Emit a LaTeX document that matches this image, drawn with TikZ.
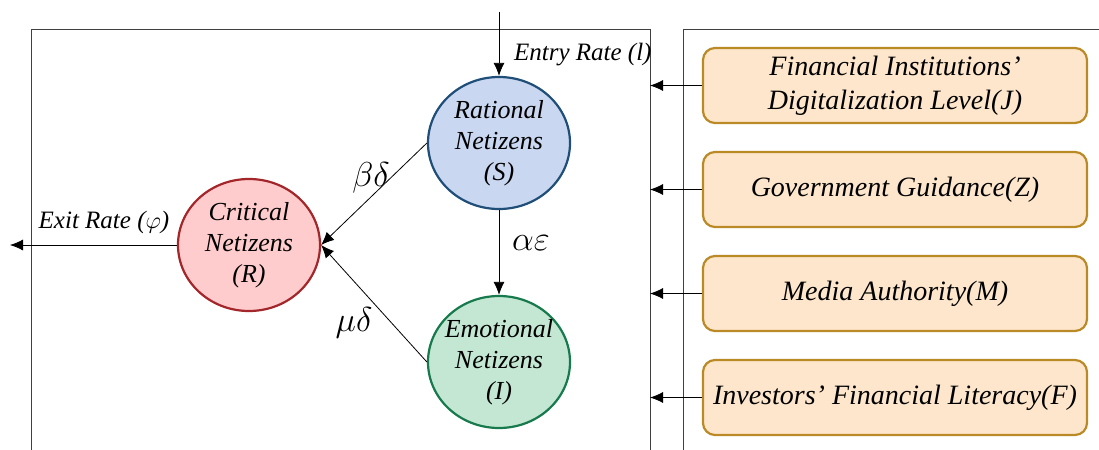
\documentclass[tikz,border=0pt]{standalone}
\usepackage{fontspec}
\setmainfont{Liberation Serif}[ItalicFont={Liberation Serif Italic}, BoldFont={Liberation Serif Bold}]
\usetikzlibrary{
  positioning,
  arrows.meta,
  shapes.geometric,
  calc
}
\definecolor{rational}{HTML}{C9D7F0}
\definecolor{rationalline}{HTML}{1F4E79}
\definecolor{critical}{HTML}{FFCCCD}
\definecolor{criticalline}{HTML}{A3262A}
\definecolor{emotional}{HTML}{C4E7D4}
\definecolor{emotionalline}{HTML}{167A4C}
\definecolor{factor}{HTML}{FDE6CB}
\definecolor{factorline}{HTML}{B98A26}
\definecolor{frame}{HTML}{404040}
\newcommand{\apos}{\char39\relax}

\begin{document}
\begin{tikzpicture}[
  x=0.5pt, y=-0.5pt,
  crowd/.style={ellipse, draw, line width=1.1pt, minimum width=71pt, minimum height=66pt,
                inner sep=-3pt, font=\fontsize{13}{15.5}\selectfont\itshape, align=center},
  factorbox/.style={draw=factorline, fill=factor, rounded corners=6pt, line width=1.1pt,
                    minimum width=192pt, minimum height=37.5pt, inner sep=2pt,
                    font=\fontsize{14}{17}\selectfont\itshape, align=center},
  rate/.style={font=\fontsize{12.5}{15}\selectfont\itshape},
  coef/.style={font=\fontsize{19}{22}\selectfont},
  arr/.style={-{Latex[length=6.5pt, width=5.5pt]}, thin, black}
]
  \useasboundingbox (0,0) rectangle (1099,450);

  % Frames
  \draw[frame, thin] (31,450) |- (650,29) -- (650,450);
  \draw[frame, thin] (683,450) |- (1099,29);

  % Netizen groups
  \node[crowd, fill=rational, draw=rationalline] (S) at (499,143) {Rational\\Netizens\\(S)};
  \node[crowd, fill=emotional, draw=emotionalline] (I) at (499,362) {Emotional\\Netizens\\(I)};
  \node[crowd, fill=critical, draw=criticalline] (R) at (249,245) {Critical\\Netizens\\(R)};

  % Entry and exit
  \coordinate (entry) at (499,12);
  \coordinate (exit) at (10,245);
  \draw[arr] (entry) -- (S.north);
  \node[rate, anchor=west] (entrylab) at (507,55) {Entry Rate (l)};
  \draw[arr] (R.west) -- (exit);
  \node[rate] (exitlab) at (104,222) {Exit Rate ($\varphi$)};

  % Transitions
  \draw[arr] (S.west) -- (R.east);
  \draw[arr] (I.west) -- (R.east);
  \draw[arr] (S.south) -- (I.north);
  \node[coef] (bd) at (371,178) {$\beta\delta$};
  \node[coef] (md) at (354,323) {$\mu\delta$};
  \node[coef] (ae) at (531,243) {$\alpha\varepsilon$};

  % Influencing factors
  \node[factorbox] (J) at (895,85.5) {Financial Institutions\apos\\Digitalization Level(J)};
  \node[factorbox] (Z) at (895,189.5) {Government Guidance(Z)};
  \node[factorbox] (M) at (895,293.5) {Media Authority(M)};
  \node[factorbox] (F) at (895,397.5) {Investors\apos{} Financial Literacy(F)};
  \foreach \f in {J,Z,M,F}
    \draw[arr] (\f.west) -- (\f.west -| 650,0);
\end{tikzpicture}
\end{document}
